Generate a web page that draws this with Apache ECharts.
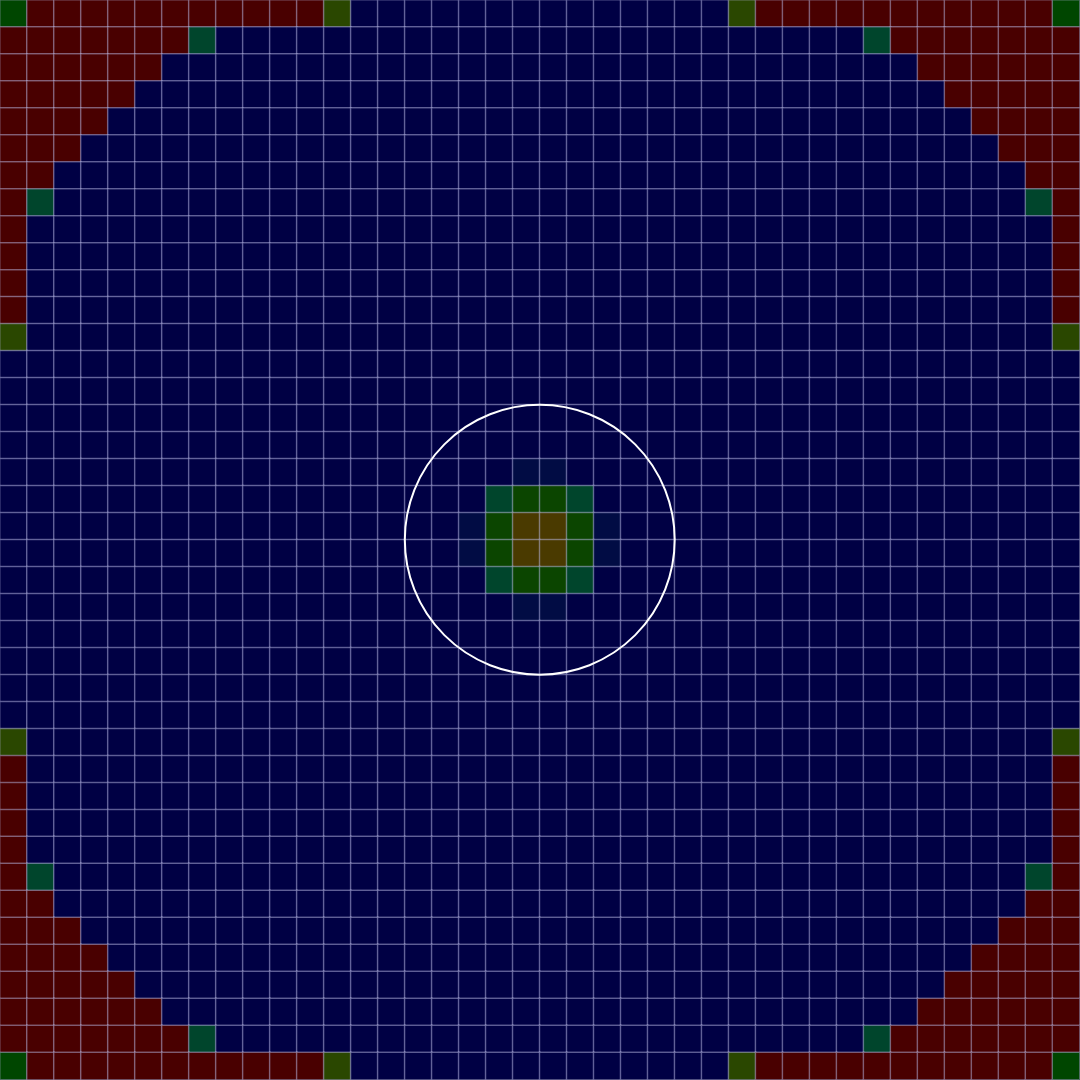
<!DOCTYPE html>
<html>
<head>
<meta charset="utf-8">
<style>
  html, body { margin: 0; padding: 0; background: #000; }
  #chart { width: 1080px; height: 1080px; }
</style>
<script src="https://cdn.jsdelivr.net/npm/echarts@6/dist/echarts.min.js"></script>
</head>
<body>
<div id="chart"></div>
<script>
// Cell classes, one string per row (top to bottom), one char per column.
// B blue, D dim blue, T teal, G green, O orange-brown, R red, Y olive, C pure green
const rows = [
  "CRRRRRRRRRRRYBBBBBBBBBBBBBBYRRRRRRRRRRRC",
  "RRRRRRRTBBBBBBBBBBBBBBBBBBBBBBBBTRRRRRRR",
  "RRRRRRBBBBBBBBBBBBBBBBBBBBBBBBBBBBRRRRRR",
  "RRRRRBBBBBBBBBBBBBBBBBBBBBBBBBBBBBBRRRRR",
  "RRRRBBBBBBBBBBBBBBBBBBBBBBBBBBBBBBBBRRRR",
  "RRRBBBBBBBBBBBBBBBBBBBBBBBBBBBBBBBBBBRRR",
  "RRBBBBBBBBBBBBBBBBBBBBBBBBBBBBBBBBBBBBRR",
  "RTBBBBBBBBBBBBBBBBBBBBBBBBBBBBBBBBBBBBTR",
  "RBBBBBBBBBBBBBBBBBBBBBBBBBBBBBBBBBBBBBBR",
  "RBBBBBBBBBBBBBBBBBBBBBBBBBBBBBBBBBBBBBBR",
  "RBBBBBBBBBBBBBBBBBBBBBBBBBBBBBBBBBBBBBBR",
  "RBBBBBBBBBBBBBBBBBBBBBBBBBBBBBBBBBBBBBBR",
  "YBBBBBBBBBBBBBBBBBBBBBBBBBBBBBBBBBBBBBBY",
  "BBBBBBBBBBBBBBBBBBBBBBBBBBBBBBBBBBBBBBBB",
  "BBBBBBBBBBBBBBBBBBBBBBBBBBBBBBBBBBBBBBBB",
  "BBBBBBBBBBBBBBBBBBBBBBBBBBBBBBBBBBBBBBBB",
  "BBBBBBBBBBBBBBBBBBBBBBBBBBBBBBBBBBBBBBBB",
  "BBBBBBBBBBBBBBBBBBBDDBBBBBBBBBBBBBBBBBBB",
  "BBBBBBBBBBBBBBBBBBTGGTBBBBBBBBBBBBBBBBBB",
  "BBBBBBBBBBBBBBBBBDGOOGDBBBBBBBBBBBBBBBBB",
  "BBBBBBBBBBBBBBBBBDGOOGDBBBBBBBBBBBBBBBBB",
  "BBBBBBBBBBBBBBBBBBTGGTBBBBBBBBBBBBBBBBBB",
  "BBBBBBBBBBBBBBBBBBBDDBBBBBBBBBBBBBBBBBBB",
  "BBBBBBBBBBBBBBBBBBBBBBBBBBBBBBBBBBBBBBBB",
  "BBBBBBBBBBBBBBBBBBBBBBBBBBBBBBBBBBBBBBBB",
  "BBBBBBBBBBBBBBBBBBBBBBBBBBBBBBBBBBBBBBBB",
  "BBBBBBBBBBBBBBBBBBBBBBBBBBBBBBBBBBBBBBBB",
  "YBBBBBBBBBBBBBBBBBBBBBBBBBBBBBBBBBBBBBBY",
  "RBBBBBBBBBBBBBBBBBBBBBBBBBBBBBBBBBBBBBBR",
  "RBBBBBBBBBBBBBBBBBBBBBBBBBBBBBBBBBBBBBBR",
  "RBBBBBBBBBBBBBBBBBBBBBBBBBBBBBBBBBBBBBBR",
  "RBBBBBBBBBBBBBBBBBBBBBBBBBBBBBBBBBBBBBBR",
  "RTBBBBBBBBBBBBBBBBBBBBBBBBBBBBBBBBBBBBTR",
  "RRBBBBBBBBBBBBBBBBBBBBBBBBBBBBBBBBBBBBRR",
  "RRRBBBBBBBBBBBBBBBBBBBBBBBBBBBBBBBBBBRRR",
  "RRRRBBBBBBBBBBBBBBBBBBBBBBBBBBBBBBBBRRRR",
  "RRRRRBBBBBBBBBBBBBBBBBBBBBBBBBBBBBBRRRRR",
  "RRRRRRBBBBBBBBBBBBBBBBBBBBBBBBBBBBRRRRRR",
  "RRRRRRRTBBBBBBBBBBBBBBBBBBBBBBBBTRRRRRRR",
  "CRRRRRRRRRRRYBBBBBBBBBBBBBBYRRRRRRRRRRRC"
];
const levels = ["B", "D", "T", "C", "G", "Y", "O", "R"];
const levelColors = ["#000044", "#010c44", "#00452c", "#004600", "#0b4500", "#2a4700", "#4a3a00", "#490000"];
const xCats = Array.from({ length: 40 }, (_, i) => String(i));
const yCats = Array.from({ length: 40 }, (_, i) => String(i));
// circle overlay: [centerX, centerY, radius] in cell units
const circles = [[20, 20, 5]];

const cells = [];
rows.forEach((row, y) => {
  for (let x = 0; x < row.length; x++) {
    cells.push([x, y, levels.indexOf(row[x])]);
  }
});

const chart = echarts.init(document.getElementById('chart'), null, { renderer: 'canvas' });
chart.setOption({
  animation: false,
  backgroundColor: '#000000',
  grid: { left: -0.5, top: -0.5, width: 1080, height: 1080 },
  xAxis: [
    { type: 'category', data: xCats, show: false },
    { type: 'value', min: 0, max: 40, show: false }
  ],
  yAxis: [
    { type: 'category', data: yCats, inverse: true, show: false },
    { type: 'value', min: 0, max: 40, inverse: true, show: false }
  ],
  visualMap: {
    show: false,
    type: 'piecewise',
    seriesIndex: 0,
    dimension: 2,
    pieces: levels.map((l, i) => ({ value: i, color: levelColors[i] }))
  },
  series: [
    {
      type: 'heatmap',
      xAxisIndex: 0,
      yAxisIndex: 0,
      data: cells,
      itemStyle: { borderColor: 'rgba(190,190,235,0.42)', borderWidth: 1.5 },
      emphasis: { disabled: true },
      silent: true
    },
    {
      type: 'custom',
      xAxisIndex: 1,
      yAxisIndex: 1,
      silent: true,
      data: circles,
      renderItem: function (params, api) {
        const c = api.coord([api.value(0), api.value(1)]);
        const r = api.size([api.value(2), 0])[0];
        return {
          type: 'circle',
          shape: { cx: c[0], cy: c[1], r: r },
          style: { fill: 'none', stroke: '#ffffff', lineWidth: 2 }
        };
      }
    }
  ]
});
</script>
</body>
</html>
